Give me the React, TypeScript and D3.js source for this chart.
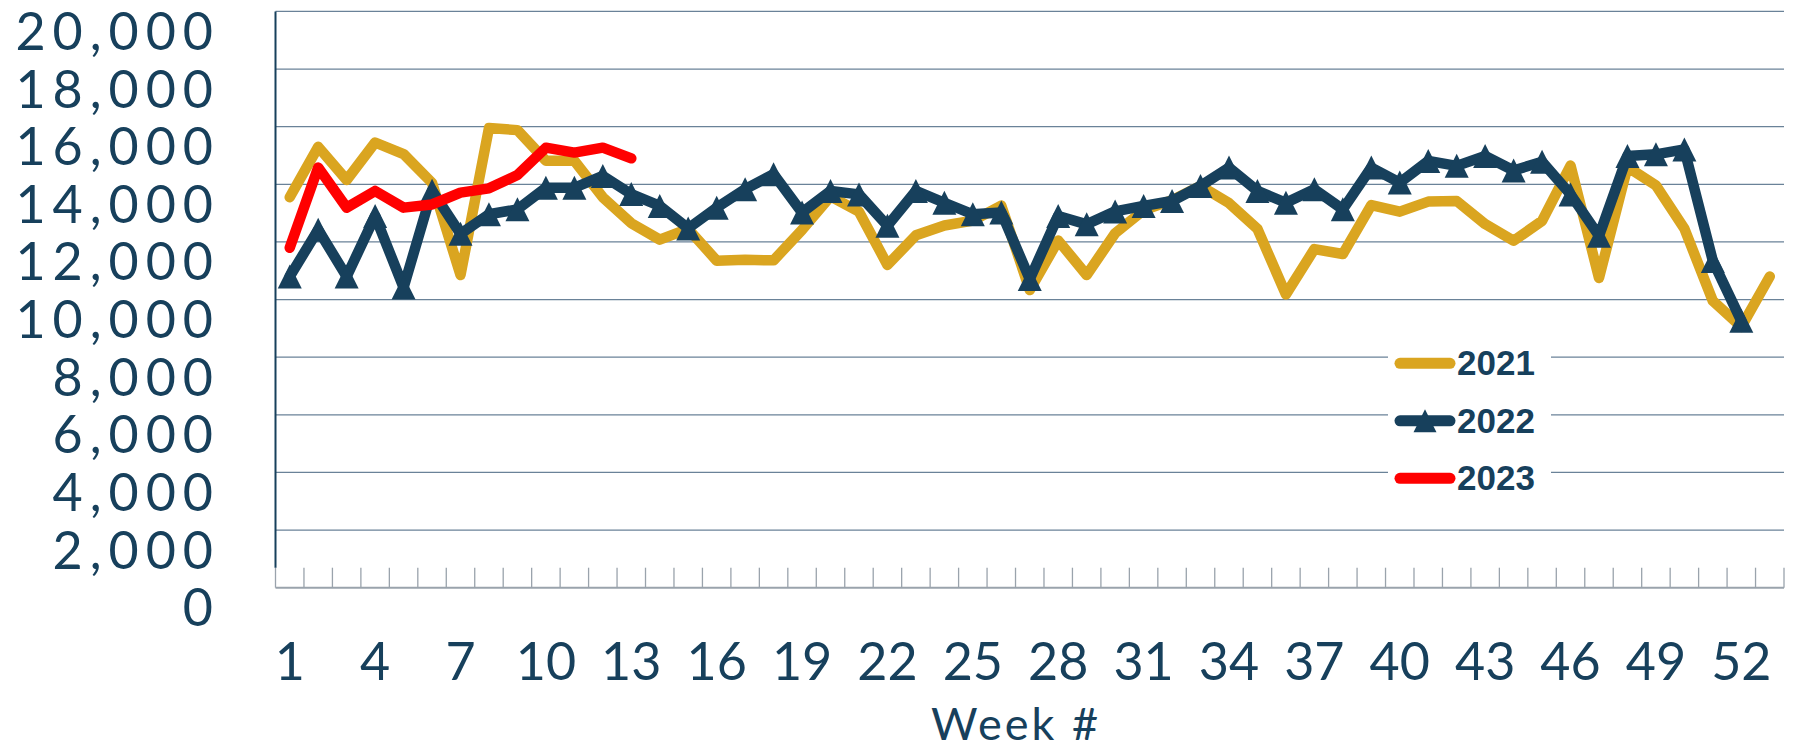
import React, { useEffect, useRef } from 'react';
import * as d3 from 'd3';

// weekly values
const weeks: number[] = d3.range(1, 54);
const tickWeeks = [1, 4, 7, 10, 13, 16, 19, 22, 25, 28, 31, 34, 37, 40, 43, 46, 49, 52];
const yTicks = [0, 2000, 4000, 6000, 8000, 10000, 12000, 14000, 16000, 18000, 20000];

const values2021 = [
  13550, 15300, 14150, 15450, 15050, 14050, 10850, 15950, 15880, 14820,
  14820, 13550, 12650, 12080, 12450, 11350, 11380, 11360, 12420, 13580,
  13050, 11200, 12230, 12570, 12740, 13260, 10330, 12050, 10850, 12300,
  13100, 13450, 13940, 13350, 12450, 10180, 11750, 11580, 13280, 13050,
  13400, 13420, 12620, 12040, 12730, 14650, 10750, 14600, 13960, 12460,
  9950, 9050, 10800,
];
const values2022 = [
  10800, 12420, 10800, 12900, 10420, 13780, 12280, 12960, 13130, 13880,
  13880, 14290, 13660, 13250, 12470, 13190, 13830, 14350, 13020, 13770,
  13650, 12560, 13770, 13360, 12960, 13020, 10710, 12900, 12610, 13060,
  13250, 13420, 13940, 14580, 13770, 13360, 13830, 13130, 14580, 14060,
  14810, 14640, 14980, 14480, 14780, 13650, 12210, 14980, 15040, 15210,
  11340, 9260,
];
const values2023 = [
  11800, 14580, 13190, 13770, 13190, 13300, 13710, 13860, 14320, 15270,
  15100, 15270, 14900,
];

const seriesNames = ['2021', '2022', '2023'];
const seriesColors = ['#DAA520', '#17405C', '#FF0000'];

const W = 1793;
const H = 751;
const NAVY = '#17405C';

const Chart: React.FC = () => {
  const svgRef = useRef<SVGSVGElement>(null);

  useEffect(() => {
    if (!svgRef.current) return;
    const svg = d3.select(svgRef.current);
    svg.selectAll('*').remove();

    const left = 275.5, right = 1784, top = 11.4, bottom = 587.7;

    const x = d3.scaleBand<number>().domain(weeks).range([left, right]).paddingInner(0).paddingOuter(0);
    const y = d3.scaleLinear().domain([0, 20000]).range([bottom, top]);
    const cx = (w: number) => (x(w) as number) + x.bandwidth() / 2;

    // gridlines
    svg.append('g')
      .selectAll('line')
      .data(yTicks.filter(t => t > 0))
      .enter().append('line')
      .attr('x1', left).attr('x2', right)
      .attr('y1', d => y(d)).attr('y2', d => y(d))
      .attr('stroke', '#6A8298')
      .attr('stroke-width', 1.3);

    // y labels (sit just under their gridline)
    svg.append('g')
      .selectAll('text')
      .data(yTicks)
      .enter().append('text')
      .attr('x', 213 + 7)
      .attr('y', d => y(d) + 38.5)
      .attr('text-anchor', 'end')
      .style('font-family', 'Lato, "Open Sans", sans-serif')
      .style('font-size', '52px')
      .style('letter-spacing', '7px')
      .style('fill', NAVY)
      .text(d => d3.format(',')(d));

    // bottom axis + ticks
    svg.append('line')
      .attr('x1', left).attr('x2', right)
      .attr('y1', bottom).attr('y2', bottom)
      .attr('stroke', '#9AA3AC').attr('stroke-width', 2);
    const boundaries = weeks.map(w => x(w) as number).concat([right]);
    svg.append('g')
      .selectAll('line')
      .data(boundaries)
      .enter().append('line')
      .attr('x1', d => d).attr('x2', d => d)
      .attr('y1', bottom - 20).attr('y2', bottom)
      .attr('stroke', '#9AA3AC').attr('stroke-width', 1.3);

    // left axis
    svg.append('line')
      .attr('x1', left).attr('x2', left)
      .attr('y1', top).attr('y2', bottom - 20)
      .attr('stroke', NAVY).attr('stroke-width', 2);

    // x labels
    svg.append('g')
      .selectAll('text')
      .data(tickWeeks)
      .enter().append('text')
      .attr('x', d => cx(d))
      .attr('y', 680)
      .attr('text-anchor', 'middle')
      .style('font-family', 'Lato, "Open Sans", sans-serif')
      .style('font-size', '52px')
      .style('fill', NAVY)
      .text(d => d);

    svg.append('text')
      .attr('x', 1016)
      .attr('y', 740)
      .attr('text-anchor', 'middle')
      .style('font-family', 'Lato, "Open Sans", sans-serif')
      .style('font-size', '45px')
      .style('letter-spacing', '3px')
      .style('fill', NAVY)
      .text('Week #');

    // lines
    const line = d3.line<number>()
      .x((_, i) => cx(weeks[i]))
      .y(d => y(d));
    const allSeries = [values2021, values2022, values2023];
    const tri = (s: number) => `M0,${-s / 2}L${s / 2},${s / 2}L${-s / 2},${s / 2}Z`;

    allSeries.forEach((vals, si) => {
      svg.append('path')
        .datum(vals)
        .attr('d', line)
        .attr('fill', 'none')
        .attr('stroke', seriesColors[si])
        .attr('stroke-width', 10.5)
        .attr('stroke-linejoin', 'round')
        .attr('stroke-linecap', 'round');
      if (si === 1) {
        svg.append('g')
          .selectAll('path')
          .data(vals)
          .enter().append('path')
          .attr('transform', (d, i) => `translate(${cx(weeks[i])},${y(d)})`)
          .attr('d', tri(24))
          .attr('fill', seriesColors[si]);
      }
    });

    // legend
    const lg = svg.append('g');
    lg.append('rect')
      .attr('x', 1388).attr('y', 335)
      .attr('width', 163).attr('height', 165)
      .attr('fill', '#fff');
    seriesNames.forEach((name, i) => {
      const ly = 363.3 + i * 57.5;
      lg.append('line')
        .attr('x1', 1400).attr('x2', 1450)
        .attr('y1', ly).attr('y2', ly)
        .attr('stroke', seriesColors[i])
        .attr('stroke-width', 11)
        .attr('stroke-linecap', 'round');
      if (i === 1) {
        lg.append('path')
          .attr('transform', `translate(1425,${ly})`)
          .attr('d', tri(23))
          .attr('fill', seriesColors[i]);
      }
      lg.append('text')
        .attr('x', 1457)
        .attr('y', ly + 12)
        .style('font-family', '"Liberation Sans", Arial, sans-serif')
        .style('font-weight', 'bold')
        .style('font-size', '35px')
        .style('fill', NAVY)
        .text(name);
    });
  }, []);

  return (
    <svg
      ref={svgRef}
      width={W}
      height={H}
      style={{ position: 'absolute', left: 0, top: 0, background: '#fff' }}
    />
  );
};

export default function App() {
  return <Chart />;
}
